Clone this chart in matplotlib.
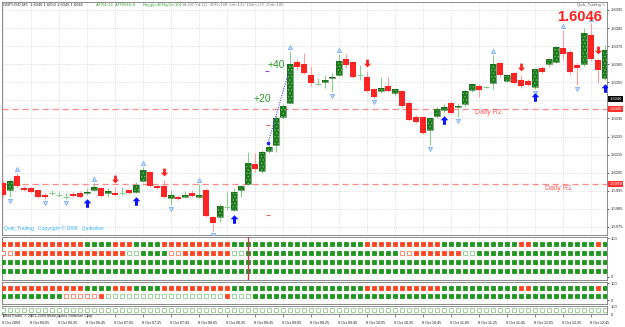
import matplotlib
matplotlib.use("Agg")
import matplotlib.pyplot as plt
import numpy as np
from matplotlib.path import Path
from matplotlib.transforms import blended_transform_factory as btf

plt.rcParams['font.family'] = ['Liberation Sans', 'DejaVu Sans']
plt.rcParams['hatch.linewidth'] = 0.6

W, H = 625, 327

# ---------------- data ----------------
opens = [1.59993, 1.59954, 1.60032, 1.59965, 1.59965, 1.59954, 1.59927, 1.59938, 1.59927, 1.59916,
         1.59932, 1.59938, 1.59938, 1.59954, 1.59965, 1.59938, 1.59938, 1.59938, 1.59954, 1.59943,
         1.60004, 1.60054, 1.59977, 1.59977, 1.59910, 1.59916, 1.59916, 1.59938, 1.59916, 1.59954,
         1.59805, 1.59805, 1.59860, 1.59844, 1.59954, 1.59988, 1.60098, 1.60060, 1.60170, 1.60203,
         1.60358, 1.60436, 1.60662, 1.60651, 1.60590, 1.60541, 1.60552, 1.60574, 1.60590, 1.60679,
         1.60662, 1.60590, 1.60579, 1.60513, 1.60502, 1.60530, 1.60491, 1.60502, 1.60436, 1.60358,
         1.60358, 1.60286, 1.60364, 1.60397, 1.60436, 1.60413, 1.60430, 1.60508, 1.60530, 1.60524,
         1.60546, 1.60657, 1.60557, 1.60602, 1.60563, 1.60557, 1.60524, 1.60629, 1.60651, 1.60662,
         1.60740, 1.60718, 1.60646, 1.60651, 1.60812, 1.60673, 1.60574]
highs = [1.60010, 1.60015, 1.60048, 1.59977, 1.59971, 1.59960, 1.59938, 1.59954, 1.59949, 1.59938,
         1.59943, 1.59949, 1.59965, 1.59993, 1.59971, 1.59965, 1.59971, 1.59971, 1.59960, 1.59999,
         1.60082, 1.60060, 1.59988, 1.60010, 1.59954, 1.59927, 1.59949, 1.59954, 1.59988, 1.59965,
         1.59811, 1.59877, 1.59943, 1.59965, 1.59982, 1.60165, 1.60159, 1.60176, 1.60225, 1.60369,
         1.60430, 1.60723, 1.60679, 1.60712, 1.60640, 1.60574, 1.60590, 1.60602, 1.60707, 1.60707,
         1.60668, 1.60646, 1.60613, 1.60519, 1.60579, 1.60579, 1.60519, 1.60508, 1.60447, 1.60369,
         1.60364, 1.60358, 1.60413, 1.60430, 1.60447, 1.60436, 1.60513, 1.60546, 1.60541, 1.60530,
         1.60701, 1.60662, 1.60596, 1.60607, 1.60590, 1.60568, 1.60629, 1.60640, 1.60685, 1.60751,
         1.60839, 1.60729, 1.60657, 1.60850, 1.60878, 1.60685, 1.60756]
lows = [1.59916, 1.59916, 1.59971, 1.59949, 1.59938, 1.59910, 1.59905, 1.59927, 1.59916, 1.59905,
        1.59916, 1.59910, 1.59927, 1.59949, 1.59916, 1.59916, 1.59921, 1.59927, 1.59932, 1.59938,
        1.59999, 1.59971, 1.59960, 1.59910, 1.59871, 1.59899, 1.59910, 1.59916, 1.59910, 1.59805,
        1.59728, 1.59777, 1.59844, 1.59838, 1.59916, 1.59982, 1.60054, 1.60048, 1.60159, 1.60165,
        1.60347, 1.60430, 1.60618, 1.60596, 1.60530, 1.60535, 1.60519, 1.60496, 1.60585, 1.60629,
        1.60574, 1.60563, 1.60496, 1.60463, 1.60491, 1.60496, 1.60480, 1.60413, 1.60336, 1.60325,
        1.60264, 1.60203, 1.60353, 1.60386, 1.60375, 1.60358, 1.60419, 1.60496, 1.60469, 1.60519,
        1.60513, 1.60579, 1.60552, 1.60541, 1.60519, 1.60530, 1.60513, 1.60602, 1.60635, 1.60657,
        1.60673, 1.60590, 1.60535, 1.60640, 1.60668, 1.60546, 1.60563]
closes = [1.59927, 1.60004, 1.59977, 1.59954, 1.59943, 1.59916, 1.59916, 1.59938, 1.59927, 1.59916,
          1.59921, 1.59916, 1.59946, 1.59971, 1.59921, 1.59949, 1.59927, 1.59938, 1.59938, 1.59982,
          1.60065, 1.59977, 1.59965, 1.59916, 1.59927, 1.59905, 1.59927, 1.59921, 1.59927, 1.59811,
          1.59772, 1.59866, 1.59860, 1.59943, 1.59977, 1.60104, 1.60071, 1.60165, 1.60192, 1.60353,
          1.60419, 1.60651, 1.60635, 1.60602, 1.60546, 1.60541, 1.60563, 1.60582, 1.60668, 1.60646,
          1.60579, 1.60590, 1.60502, 1.60469, 1.60519, 1.60502, 1.60513, 1.60419, 1.60342, 1.60331,
          1.60270, 1.60353, 1.60402, 1.60413, 1.60380, 1.60419, 1.60502, 1.60541, 1.60508, 1.60524,
          1.60651, 1.60590, 1.60590, 1.60546, 1.60530, 1.60535, 1.60624, 1.60607, 1.60679, 1.60745,
          1.60707, 1.60607, 1.60629, 1.60823, 1.60679, 1.60618, 1.60729]

up_arrow_bars = [12, 19, 33, 63, 76, 86]
down_arrow_bars = [16, 23, 52, 74, 85]
fractal_up_bars = [2, 13, 20, 28, 41, 48, 70, 80, 84]
fractal_dn_bars = [1, 6, 9, 24, 30, 47, 53, 61, 65, 76, 82]

daily_r1 = 1.5999
daily_r2 = 1.6040
bid_price = 1.6046

trail_bars = [37.86, 40.86]
trail_prices = [1.60214, 1.60613]
target_bars = [37.7, 37.8, 37.8]
target_prices = [1.60613, 1.60314, 1.59816]
target_colors = ['#8a4ad0', '#e86060', '#e86060']

price_ticks = [1.5975, 1.5985, 1.5995, 1.6005, 1.6015, 1.6025, 1.6035,
               1.6045, 1.6055, 1.6065, 1.6075, 1.6085, 1.6095]
hidden_tick = 1.6045   # covered by the bid box in the reference

time_labels = ['8 Oct 2009', '8 Oct 06:05', '8 Oct 06:25', '8 Oct 06:45', '8 Oct 07:05',
               '8 Oct 07:25', '8 Oct 07:45', '8 Oct 08:05', '8 Oct 08:25', '8 Oct 08:45',
               '8 Oct 09:05', '8 Oct 09:25', '8 Oct 09:45', '8 Oct 10:05', '8 Oct 10:25',
               '8 Oct 10:45', '8 Oct 11:05', '8 Oct 11:25', '8 Oct 11:45', '8 Oct 12:05',
               '8 Oct 12:25', '8 Oct 12:45']
time_label_bars = list(range(0, 88, 4))

# signal rows: R filled red, r hollow red, G filled green, g hollow green
sub1_rows = [
    'R' * 12 + 'G' * 4 + 'R' * 3 + 'G' * 4 + 'R' * 10 + 'G' * 19 + 'R' * 11 + 'G' * 11 + 'R' * 2 + 'G' * 9 + 'R' + 'G',
    'r' * 2 + 'R' * 16 + 'g' * 2 + 'G' * 4 + 'r' * 2 + 'R' * 7 + 'g' * 2 + 'G' * 22 + 'r' * 2 + 'R' * 7 + 'g' * 2 + 'G' * 19,
    'G' * 87,
    'G' * 87,
]
sub2_rows = [
    'R' * 12 + 'G' * 4 + 'R' * 3 + 'G' * 4 + 'R' * 10 + 'G' * 19 + 'R' * 11 + 'G' * 11 + 'R' * 2 + 'G' * 9 + 'R' + 'G',
    'G' * 9 + 'r' * 5 + 'R' + 'g' * 17 + 'R' + 'g' * 3 + 'G' * 51,
]
sub3_rows = ['g' * 87]

# ---------------- figure ----------------
fig = plt.figure(figsize=(W / 100, H / 100), dpi=100)
fig.patch.set_facecolor('white')


def fx(px):
    return px / W


def fy(py):
    return 1 - py / H


def add_ax(top, bottom):
    return fig.add_axes([fx(2), fy(bottom), fx(607) - fx(2), (bottom - top) / H])


ax = add_ax(2, 235)
s1 = add_ax(237, 280)
s2 = add_ax(282, 304)
s3 = add_ax(306, 314)

XL = (-1 / 7, 604 / 7)
grid_kw = dict(color='#c4c4c4', lw=0.5, ls=(0, (1, 2)))
for a in (ax, s1, s2, s3):
    a.set_xlim(*XL)
    a.set_facecolor('white')
    for sp in a.spines.values():
        sp.set_color('#7a7a7a')
        sp.set_linewidth(0.6)
    a.set_xticks(time_label_bars)
    a.tick_params(axis='x', length=0, labelbottom=False)
    a.xaxis.grid(True, **grid_kw)
    a.set_axisbelow(True)

# ---- main price window ----
ax.set_ylim(1.597057, 1.609942)
ax.yaxis.tick_right()
ax.set_yticks(price_ticks)
ax.set_yticklabels(['' if abs(p - hidden_tick) < 1e-9 else '%.4f' % p for p in price_ticks])
ax.tick_params(axis='y', labelsize=3, length=1.5, width=0.5, pad=1, colors='#303030')
ax.yaxis.grid(True, **grid_kw)

x = np.arange(len(opens))
o = np.array(opens)
h = np.array(highs)
l = np.array(lows)
c = np.array(closes)
bull = c > o
bear = c < o
doji = c == o

ax.vlines(x[bull | doji], l[bull | doji], h[bull | doji], color='#8ccf8c', lw=0.8, zorder=3)
ax.vlines(x[bear], l[bear], h[bear], color='#ff9c9c', lw=0.8, zorder=3)
minb = 0.00007
bh = np.maximum(c[bull] - o[bull], minb)
ax.bar(x[bull], bh, bottom=o[bull], width=0.72, color='#1f7a1f', edgecolor='#63bb63',
       hatch='.....', lw=0, zorder=4)
ax.bar(x[bull], bh, bottom=o[bull], width=0.72, fill=False, edgecolor='#1b651b', lw=0.4, zorder=4)
ax.bar(x[bear], np.maximum(o[bear] - c[bear], minb), bottom=c[bear], width=0.72,
       color='#ff2424', lw=0, zorder=4)
ax.hlines(o[doji], x[doji] - 0.36, x[doji] + 0.36, color='#8ccf8c', lw=0.8, zorder=4)

# pivot lines
for lvl in (daily_r1, daily_r2):
    ax.axhline(lvl, color='#ff8a8a', lw=0.9, ls=(0, (5, 3)), zorder=2)

# fractals
fu = np.array(fractal_up_bars)
fd = np.array(fractal_dn_bars)
ax.plot(fu, h[fu] + 0.00022, ls='none', marker='^', ms=3.0, mfc='#c8deff', mec='#6aa6f4', mew=0.5, zorder=5)
ax.plot(fd, l[fd] - 0.00022, ls='none', marker='v', ms=3.0, mfc='#c8deff', mec='#6aa6f4', mew=0.5, zorder=5)

# arrows
up_path = Path([(0, 1), (-0.9, 0.05), (-0.35, 0.05), (-0.35, -1), (0.35, -1), (0.35, 0.05), (0.9, 0.05), (0, 1)],
               [Path.MOVETO] + [Path.LINETO] * 6 + [Path.CLOSEPOLY])
dn_path = Path([(0, -1), (-0.9, -0.05), (-0.35, -0.05), (-0.35, 1), (0.35, 1), (0.35, -0.05), (0.9, -0.05), (0, -1)],
               [Path.MOVETO] + [Path.LINETO] * 6 + [Path.CLOSEPOLY])
ua = np.array(up_arrow_bars)
da = np.array(down_arrow_bars)
ax.plot(ua, l[ua] - 0.00042, ls='none', marker=up_path, ms=6.2, color='#0a14ff', mew=0, zorder=6)
ax.plot(da, h[da] + 0.00042, ls='none', marker=dn_path, ms=5.6, color='#ff2020', mew=0, zorder=6)

# trailing line and target dashes
ax.plot(trail_bars, trail_prices, color='#4848ff', lw=0.8, ls=(0, (1, 1.2)), zorder=6)
ax.plot(trail_bars[:1], trail_prices[:1], marker='o', ms=1.6, color='#2020ff', zorder=6)
for tbar, tp, tc in zip(target_bars, target_prices, target_colors):
    ax.hlines(tp, tbar - 0.3, tbar + 0.3, color=tc, lw=0.8, zorder=6)

# right-axis boxes
tb = btf(ax.transAxes, ax.transData)
for lvl, fc in ((daily_r2, '#ff3030'), (daily_r1, '#ff3030'), (bid_price, '#000000')):
    ax.text(1.004, lvl, '%.4f' % lvl, transform=tb, fontsize=3, color='white', va='center', ha='left',
            clip_on=False, zorder=8,
            bbox=dict(boxstyle='square,pad=0.25', fc=fc, ec='none'))

# ---- subwindows ----
styles = {'R': ('#ff4422', '#ff4422'), 'r': ('white', '#ff7a5a'),
          'G': ('#1f961f', '#1f961f'), 'g': ('white', '#8acb8a')}


def draw_rows(a, rows, levels):
    for row, lv in zip(rows, levels):
        fcs = [styles[ch][0] for ch in row]
        ecs = [styles[ch][1] for ch in row]
        a.scatter(np.arange(len(row)), np.full(len(row), lv), marker='s', s=8,
                  facecolors=fcs, edgecolors=ecs, linewidths=0.6, zorder=4)


s1.set_ylim(-7.7, 102.6)
draw_rows(s1, sub1_rows, [84.6, 61.5, 38.5, 15.4])
s1.axvline(35, color='#c83a50', lw=1.0, zorder=5)
s2.set_ylim(-23.5, 105.9)
draw_rows(s2, sub2_rows, [70.6, 23.5])
s3.set_ylim(11, 111)
draw_rows(s3, sub3_rows, [55.6])

for a in (s1, s2):
    a.yaxis.tick_right()
    a.set_yticks([0, 100])
    a.set_yticklabels(['0', '100'])
    a.tick_params(axis='y', labelsize=3, length=1.5, width=0.5, pad=1, colors='#303030')
s3.set_yticks([])
ts3 = btf(s3.transAxes, s3.transData)
s3.text(1.006, 100, '100', transform=ts3, fontsize=3, color='#303030', va='center', clip_on=False)
s3.text(1.006, 0, '0', transform=ts3, fontsize=3, color='#303030', va='center', clip_on=False)

# time axis
s3.tick_params(axis='x', length=2, width=0.5, direction='out', color='#505050')
tx = btf(s3.transData, fig.transFigure)
for b, lab in zip(time_label_bars, time_labels):
    s3.text(b - 0.2, fy(323), lab, transform=tx, fontsize=2.7, color='#202020',
            ha='left', va='center', clip_on=False)

# ---------------- texts ----------------
fig.text(fx(3), fy(5), 'GBPUSD,M5  1.6046 1.6050 1.6045 1.6046', fontsize=3, color='#303030', va='center')
fig.text(fx(96), fy(5), 'ATR4=11  ATR5H4=0', fontsize=3, color='#3aa03a', va='center')
fig.text(fx(143), fy(5), 'Rng(p)=40', fontsize=3, color='#3aa03a', va='center')
fig.text(fx(162), fy(5), 'RngDn:101', fontsize=3, color='#3aa03a', va='center')
fig.text(fx(182), fy(5), 'Yd:182', fontsize=3, color='#808080', va='center')
fig.text(fx(195), fy(5), 'Yd:111  4DR=168  5dr=131  10dr=172  20dr=180', fontsize=3, color='#808080', va='center')
fig.text(fx(577), fy(5), 'Quik_Trailing \u00a9', fontsize=3, color='#505050', va='center')
fig.text(fx(557), fy(17), '1.6046', fontsize=10.5, color='#ff2020', fontweight='bold', va='center')
fig.text(fx(268), fy(65), '+40', fontsize=7.5, color='#2f9a2f', va='center')
fig.text(fx(254), fy(99), '+20', fontsize=7.5, color='#2f9a2f', va='center')
fig.text(fx(475), fy(113), 'Daily R2', fontsize=5, color='#ff5a5a', va='center')
fig.text(fx(545), fy(189), 'Daily R1', fontsize=5, color='#ff5a5a', va='center')
fig.text(fx(4), fy(228), 'Quik_Trailing   Copyright \u00a9 2009   Quiksilver', fontsize=3.6,
         color='#3cb4ff', va='center')
fig.text(fx(3), fy(315.5), 'MetaTrader, \u00a9 2001-2009 MetaQuotes Software Corp.', fontsize=2.7,
         color='#303030', va='center')

fig.savefig('out.png', dpi=100)
